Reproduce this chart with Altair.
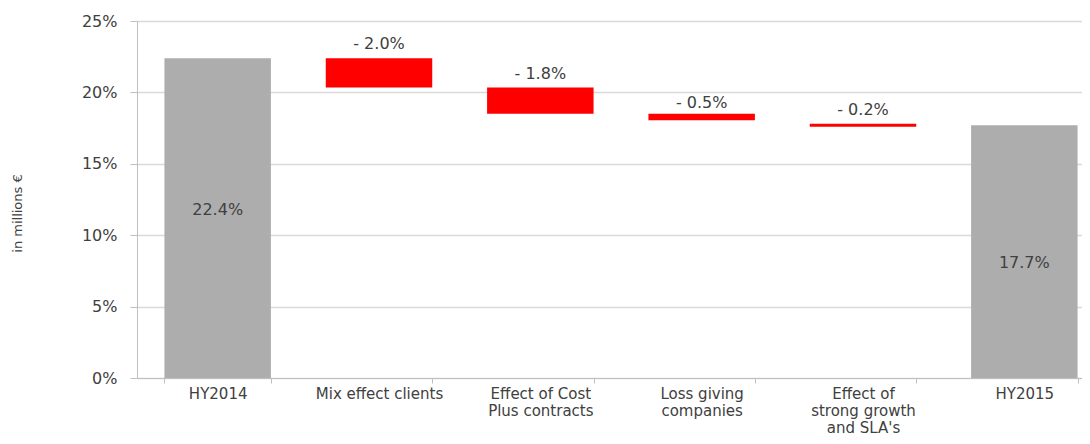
import altair as alt
import pandas as pd

# ---- data ----
categories = ["HY2014", "Mix effect clients", "Effect of Cost\nPlus contracts",
              "Loss giving\ncompanies", "Effect of\nstrong growth\nand SLA's", "HY2015"]
bar_start = [0.0, 22.4, 20.35, 18.5, 17.8, 0.0]
bar_end = [22.4, 20.35, 18.5, 18.05, 17.6, 17.7]
kinds = ["total", "change", "change", "change", "change", "total"]
value_labels = ["22.4%", "- 2.0%", "- 1.8%", "- 0.5%", "- 0.2%", "17.7%"]
y_ticks = [0, 5, 10, 15, 20, 25]

# ---- styling ----
label_dy = [-8, -14, -13, -11, -14, 11]  # pixel nudges for value labels
FONT = "DejaVu Sans"
TXT = "#404040"

anchor = []
for s, e, k in zip(bar_start, bar_end, kinds):
    anchor.append(e / 2 if k == "total" else max(s, e))

df = pd.DataFrame({
    "cat": categories,
    "start": bar_start,
    "end": bar_end,
    "kind": kinds,
    "lab": value_labels,
    "anchor": anchor,
    "dy": label_dy,
})

xscale = alt.Scale(domain=categories, range=[0, 968], paddingInner=0.34, paddingOuter=0.17)
yscale = alt.Scale(domain=[0, 25], nice=False)

x_enc = alt.X(
    "cat:N", sort=categories, scale=xscale,
    axis=alt.Axis(
        title=None, labelAngle=0, labelExpr="split(datum.label, '\\n')",
        labelFont=FONT, labelFontSize=15, labelColor=TXT, labelBaseline="top",
        labelPadding=3, labelLineHeight=17, tickBand="extent", tickSize=5,
        tickColor="#BFBFBF", domainColor="#BFBFBF", grid=False, labelLimit=300,
    ),
)

bars = alt.Chart(df).mark_bar().encode(
    x=x_enc,
    y=alt.Y(
        "start:Q", scale=yscale,
        axis=alt.Axis(
            values=y_ticks, labelExpr="datum.value + '%'", title="in millions €",
            titleFont=FONT, titleFontSize=13, titleFontWeight="normal", titleColor=TXT,
            titleAngle=-90, titleX=-120, titleY=192, titleAlign="center",
            titleBaseline="middle",
            labelFont=FONT, labelFontSize=16, labelColor=TXT, labelPadding=13,
            tickSize=7, tickColor="#BFBFBF", domainColor="#BFBFBF",
            gridColor="#D9D9D9", gridWidth=1.3,
        ),
    ),
    y2="end:Q",
    color=alt.Color("kind:N", scale=alt.Scale(domain=["total", "change"],
                                              range=["#ADADAD", "#FF0000"]), legend=None),
)

text_layers = []
for d in sorted(set(label_dy)):
    text_layers.append(
        alt.Chart(df).transform_filter(alt.datum.dy == d)
        .mark_text(font=FONT, fontSize=16, color=TXT, baseline="middle", dy=d)
        .encode(
            x=alt.X("cat:N", sort=categories, scale=xscale),
            y=alt.Y("anchor:Q", scale=yscale),
            text="lab:N",
        )
    )

chart = alt.layer(bars, *text_layers).properties(
    width=945, height=357,
    autosize=alt.AutoSizeParams(type="none"),
    padding={"left": 129, "top": 13, "right": 0, "bottom": 58},
).configure_view(stroke=None)

chart.save("out.html", embed_options={"renderer": "svg", "actions": False})
